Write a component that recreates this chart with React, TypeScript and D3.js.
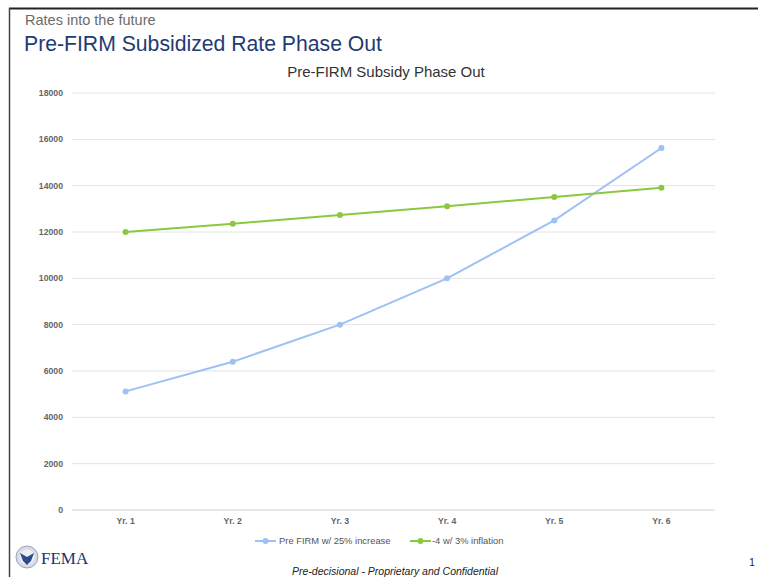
import React from "react";
import * as d3 from "d3";

const categories = ["Yr. 1", "Yr. 2", "Yr. 3", "Yr. 4", "Yr. 5", "Yr. 6"];
const preFirmValues = [5120, 6400, 8000, 10000, 12500, 15625];
const inflationValues = [12000, 12360, 12731, 13113, 13506, 13911];
const yTicks = [0, 2000, 4000, 6000, 8000, 10000, 12000, 14000, 16000, 18000];
const seriesNames = ["Pre FIRM w/ 25% increase", "-4 w/ 3% inflation"];

const W = 758;
const H = 577;
const left = 72;
const right = 715;
const top = 93;
const bottom = 510;

export default function App() {
  const x = d3.scalePoint<string>().domain(categories).range([left, right]).padding(0.5);
  const y = d3.scaleLinear().domain([0, 18000]).range([bottom, top]);
  const line = d3
    .line<number>()
    .x((_, i) => x(categories[i]) as number)
    .y((d) => y(d));
  const series = [
    { name: seriesNames[0], values: preFirmValues, color: "#9fc0f5" },
    { name: seriesNames[1], values: inflationValues, color: "#8cc83f" },
  ];
  const font = "'Liberation Sans', Arial, sans-serif";
  return (
    <div style={{ position: "fixed", left: 0, top: 0 }}>
      <svg width={W} height={H} style={{ display: "block", background: "#fff" }} fontFamily={font}>
        <rect x={0} y={0} width={W} height={H} fill="#fff" />
        <line x1={9} y1={8.5} x2={W} y2={8.5} stroke="#222" strokeWidth={2} />
        <line x1={9.5} y1={8} x2={9.5} y2={H} stroke="#444" strokeWidth={1.5} />
        <text x={25} y={25} fontSize={14.5} fill="#6b6b6b">Rates into the future</text>
        <text x={24} y={51} fontSize={21.2} fill="#1f3b73">Pre-FIRM Subsidized Rate Phase Out</text>
        <text x={386} y={77} fontSize={15} fill="#333" textAnchor="middle">Pre-FIRM Subsidy Phase Out</text>
        {yTicks.map((t) => (
          <g key={t}>
            <line x1={left} x2={right} y1={y(t)} y2={y(t)} stroke={t === 0 ? "#d0d0d0" : "#e4e4e4"} strokeWidth={1} />
            <text x={63} y={y(t) + 3} fontSize={8.7} fontWeight="bold" fill="#666" textAnchor="end">{t}</text>
          </g>
        ))}
        {categories.map((c) => (
          <text key={c} x={x(c) as number} y={524} fontSize={8.7} fontWeight="bold" fill="#666" textAnchor="middle">{c}</text>
        ))}
        {series.map((s) => (
          <g key={s.name}>
            <path d={line(s.values) as string} fill="none" stroke={s.color} strokeWidth={2} />
            {s.values.map((v, i) => (
              <circle key={i} cx={x(categories[i]) as number} cy={y(v)} r={3} fill={s.color} />
            ))}
          </g>
        ))}
        <g fontSize={9.4} fill="#555">
          <line x1={255} x2={276} y1={541} y2={541} stroke={series[0].color} strokeWidth={2} />
          <circle cx={265.5} cy={541} r={3} fill={series[0].color} />
          <text x={279} y={544}>{seriesNames[0]}</text>
          <line x1={410} x2={431} y1={541} y2={541} stroke={series[1].color} strokeWidth={2} />
          <circle cx={420.5} cy={541} r={3} fill={series[1].color} />
          <text x={432} y={544}>{seriesNames[1]}</text>
        </g>
        <text x={395} y={575} fontSize={10.5} fontStyle="italic" fill="#222" textAnchor="middle">Pre-decisional - Proprietary and Confidential</text>
        <text x={752} y={566} fontSize={10} fill="#222" textAnchor="middle">1</text>
        <g>
          <circle cx={27} cy={557} r={11} fill="#d8dce6" stroke="#9aa3b8" strokeWidth={1} />
          <circle cx={27} cy={557} r={7.5} fill="#eef0f5" />
          <path d="M20,553 L27,557 L34,553 L31,561 L27,565 L23,561 Z" fill="#2c4a8c" />
          <text x={41} y={564} fontSize={17} fill="#1e3270" fontFamily="'Liberation Serif', 'DejaVu Serif', serif">FEMA</text>
        </g>
      </svg>
    </div>
  );
}
